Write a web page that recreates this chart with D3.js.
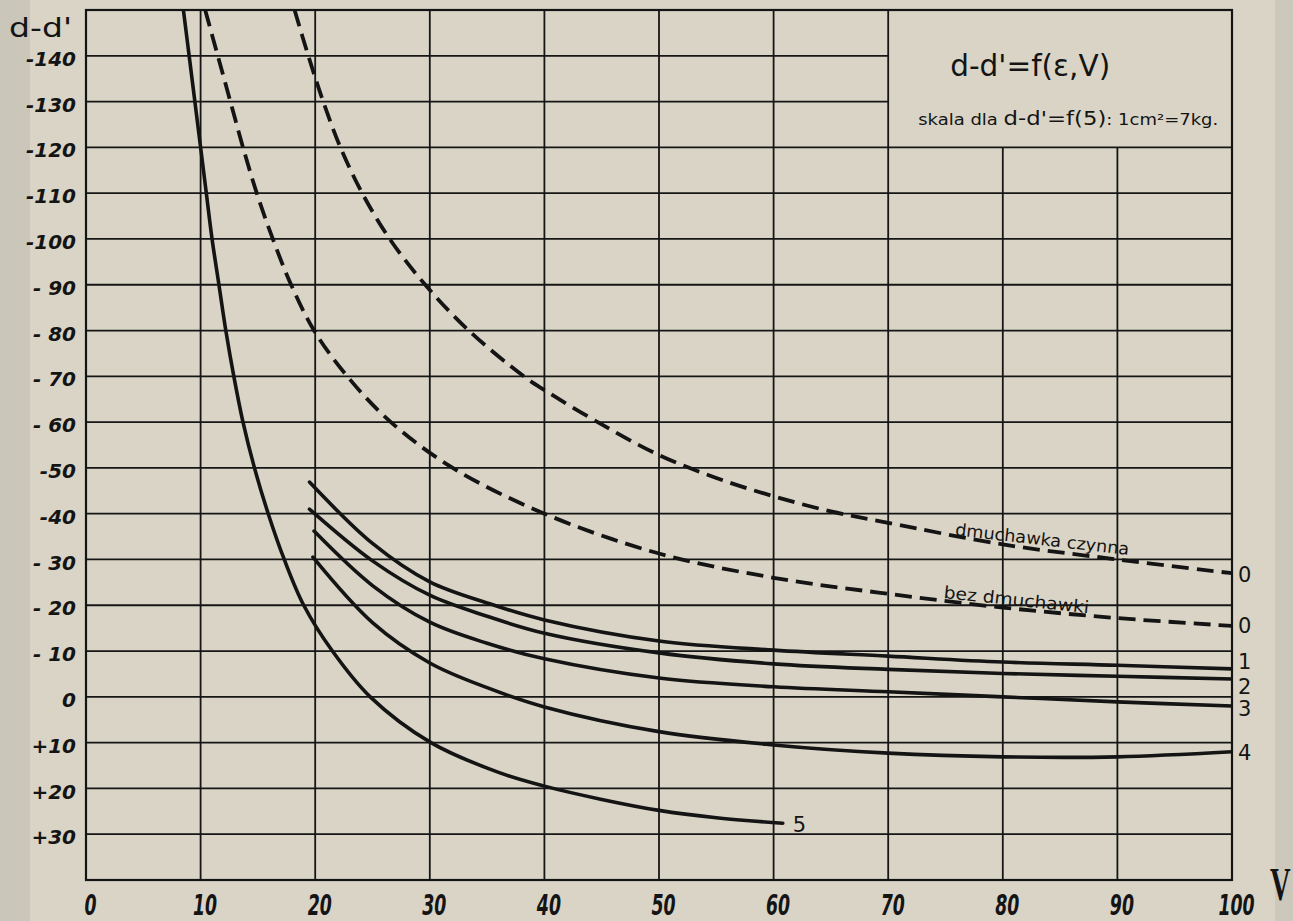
<!DOCTYPE html>
<meta charset="utf-8">
<style>
body { margin: 0; background: #d9d4c6; }
svg { display: block; }
.grid line { stroke: #161616; stroke-width: 1.8; }
.curve { fill: none; stroke: #141414; stroke-width: 3.6; stroke-linecap: round; }
.dashed { stroke-dasharray: 17 8; stroke-linecap: butt; stroke-width: 3.8; }
.lbl { font-family: "DejaVu Sans"; fill: #141414; }
</style>
<body>
<div id="chart"></div>
<script src="https://d3js.org/d3.v7.min.js"></script>
<script>

// ticks
var yTicks = [-140, -130, -120, -110, -100, -90, -80, -70, -60, -50, -40, -30, -20, -10, 0, 10, 20, 30];
var yTickLabels = ["-140", "-130", "-120", "-110", "-100", "- 90", "- 80", "- 70", "- 60", "-50", "-40", "- 30", "- 20", "- 10", "0", "+10", "+20", "+30"];
var xTicks = [0, 10, 20, 30, 40, 50, 60, 70, 80, 90, 100];

// dmuchawka czynna (dashed, upper)
var vCzynna = [18.2, 19.4, 20.7, 22.2, 24.1, 26.5, 29.6, 33.4, 38.2, 40, 45, 50, 55, 60, 65, 70, 80, 90, 100];
var dCzynna = [-150, -140, -130, -120, -110, -100, -90, -80, -70, -67, -59.5, -52.8, -47.8, -43.8, -40.5, -38, -33.3, -30, -27];

// bez dmuchawki (dashed, lower)
var vBez = [10.4, 11.5, 12.6, 13.7, 14.9, 16.3, 17.9, 19.9, 22.8, 26.6, 32.0, 40, 50, 60, 70, 80, 90, 100];
var dBez = [-150, -140, -130, -120, -110, -100, -90, -80, -70, -60, -50, -40, -31.3, -26, -22.5, -19.5, -17.2, -15.5];

// solid curves 1..4
var v1 = [19.5, 25, 30, 35, 40, 50, 60, 70, 80, 90, 100];
var d1 = [-46.9, -33.5, -25.1, -20.5, -16.8, -12.2, -10.2, -8.9, -7.6, -6.9, -6.1];
var v2 = [19.5, 25, 30, 35, 40, 50, 60, 70, 80, 90, 100];
var d2 = [-41.0, -29.7, -22.2, -17.6, -13.9, -9.6, -7.2, -6.0, -5.1, -4.5, -3.9];
var v3 = [19.9, 25, 30, 35, 40, 50, 60, 70, 80, 90, 100];
var d3v = [-36.2, -24.3, -16.3, -11.7, -8.3, -4.1, -2.2, -1.1, 0, 1.1, 2.0];
var v4 = [19.8, 25, 30, 35, 40, 50, 60, 70, 80, 90, 100];
var d4 = [-30.5, -16.2, -7.4, -2.0, 2.2, 7.6, 10.5, 12.3, 13.1, 13.1, 12.0];

// curve 5 (steep solid)
var v5 = [8.5, 9.0, 9.5, 10.0, 10.5, 11.0, 11.6, 12.2, 12.9, 13.7, 14.7, 15.9, 17.3, 19.0, 21.5, 24.8, 30.1, 36, 40, 45, 50, 55, 60.8];
var d5 = [-150, -140, -130, -120, -110, -100, -90, -80, -70, -60, -50, -40, -30, -20, -10, 0, 10, 16.5, 19.5, 22.4, 24.8, 26.4, 27.6];

var curveNames = ["0", "0", "1", "2", "3", "4", "5"];

// texts
var title = "d-d'=f(ε,V)";
var subtitle = ["skala dla ", "d-d'=f(5)", ": 1cm²=7kg."];
var labelCzynna = "dmuchawka czynna";
var labelBez = "bez dmuchawki";

// sizes
var largeur = 1293;
var hauteur = 921;
var margin = {top: 10, right: 61, bottom: 41, left: 86};

var svg = d3.select("#chart")
    .append("svg")
        .attr("width", largeur)
        .attr("height", hauteur);

// paper + scan border strips
svg.append("rect").attr("width", largeur).attr("height", hauteur).attr("fill", "#d9d4c6");
svg.append("rect").attr("width", 30).attr("height", hauteur).attr("fill", "#cac6ba");
svg.append("rect").attr("x", 1275).attr("width", largeur - 1275).attr("height", hauteur).attr("fill", "#ccc8bc");

var x = d3.scaleLinear()
    .domain([0, 100])
    .range([margin.left, largeur - margin.right]);
var y = d3.scaleLinear()
    .domain([-150, 40])
    .range([margin.top, hauteur - margin.bottom]);

// grid, leaving the title box (V>70, d<-120) blank
var grid = svg.append("g").attr("class", "grid");
grid.selectAll(".h")
    .data(yTicks)
    .enter().append("line")
        .attr("x1", x(0))
        .attr("x2", d => d < -120 ? x(70) : x(100))
        .attr("y1", d => y(d))
        .attr("y2", d => y(d));
grid.selectAll(".v")
    .data(xTicks.filter(d => d > 0 && d < 100))
    .enter().append("line")
        .attr("x1", d => x(d))
        .attr("x2", d => x(d))
        .attr("y1", d => d > 70 ? y(-120) : y(-150))
        .attr("y2", y(40));

svg.append("rect")
    .attr("x", x(0))
    .attr("y", y(-150))
    .attr("width", x(100) - x(0))
    .attr("height", y(40) - y(-150))
    .attr("fill", "none")
    .attr("stroke", "#141414")
    .attr("stroke-width", 2.2);

// axes
var yAxis = d3.axisLeft(y)
    .tickValues(yTicks)
    .tickSize(0)
    .tickPadding(10)
    .tickFormat((d, i) => yTickLabels[i]);
svg.append("g")
    .attr("transform", "translate(" + x(0) + ",0)")
    .call(yAxis)
    .call(g => g.select(".domain").remove())
    .selectAll("text")
        .attr("dy", "0.48em")
        .attr("font-family", "DejaVu Sans")
        .attr("font-size", 20)
        .attr("font-style", "italic")
        .attr("font-weight", "bold")
        .attr("fill", "#141414");

var xAxis = d3.axisBottom(x)
    .tickValues(xTicks)
    .tickSize(0);
svg.append("g")
    .attr("transform", "translate(0," + y(40) + ")")
    .call(xAxis)
    .call(g => g.select(".domain").remove())
    .selectAll("text")
        .attr("y", 35)
        .attr("dy", 0)
        .attr("transform", "translate(4,0) scale(0.62,1)")
        .attr("font-family", "DejaVu Sans")
        .attr("font-size", 28)
        .attr("font-style", "italic")
        .attr("font-weight", "bold")
        .attr("fill", "#141414");

// axis titles
svg.append("text")
    .attr("class", "lbl")
    .attr("x", 9)
    .attr("y", 37)
    .attr("font-size", 26)
    .attr("textLength", 63)
    .attr("lengthAdjust", "spacingAndGlyphs")
    .text("d-d'");

svg.append("text")
    .attr("x", 0)
    .attr("y", 0)
    .attr("transform", "translate(" + (x(100) + 38) + "," + (y(40) + 20) + ") scale(0.62,1)")
    .attr("font-family", "Liberation Serif")
    .attr("font-weight", "bold")
    .attr("font-size", 46)
    .attr("fill", "#141414")
    .text("V");

// title box
svg.append("text")
    .attr("class", "lbl")
    .attr("x", x(70) + 62)
    .attr("y", y(-150) + 66)
    .attr("font-size", 30)
    .attr("textLength", 160)
    .attr("lengthAdjust", "spacingAndGlyphs")
    .text(title);

var sub = svg.append("text")
    .attr("class", "lbl")
    .attr("x", x(70) + 30)
    .attr("y", y(-150) + 115)
    .attr("textLength", 300)
    .attr("lengthAdjust", "spacingAndGlyphs");
sub.selectAll("tspan")
    .data(subtitle)
    .enter().append("tspan")
        .attr("font-size", (d, i) => i == 1 ? 19 : 15)
        .text(d => d);

// curves
var curves = [
    {v: vCzynna, d: dCzynna, dashed: true},
    {v: vBez, d: dBez, dashed: true},
    {v: v1, d: d1},
    {v: v2, d: d2},
    {v: v3, d: d3v},
    {v: v4, d: d4},
    {v: v5, d: d5}
].map((c, i) => ({
    name: curveNames[i],
    dashed: !!c.dashed,
    points: c.v.map((v, j) => ({v: v, d: c.d[j]}))
}));

svg.append("clipPath")
        .attr("id", "cliprange")
    .append("rect")
        .attr("x", x(0))
        .attr("y", y(-150))
        .attr("width", x(100) - x(0))
        .attr("height", y(40) - y(-150));

var line = d3.line()
    .x(p => x(p.v))
    .y(p => y(p.d))
    .curve(d3.curveCatmullRom.alpha(0.5));

svg.append("g")
    .attr("clip-path", "url(#cliprange)")
    .selectAll("path")
    .data(curves)
    .enter().append("path")
        .attr("class", c => c.dashed ? "curve dashed" : "curve")
        .attr("d", c => line(c.points));

// end labels of the curves
var labelDy = [9, 7, 0, 15, 10, 8, 9];
svg.selectAll(".endlbl")
    .data(curves)
    .enter().append("text")
        .attr("class", "lbl")
        .attr("font-size", 21)
        .attr("x", c => x(c.points[c.points.length - 1].v) + (c.name == "5" ? 10 : 6))
        .attr("y", (c, i) => y(c.points[c.points.length - 1].d) + labelDy[i])
        .text(c => c.name);

// labels along the dashed curves
svg.append("text")
    .attr("class", "lbl")
    .attr("font-size", 17)
    .attr("textLength", 175)
    .attr("lengthAdjust", "spacingAndGlyphs")
    .attr("transform", "translate(" + x(75.8) + "," + y(-35.3) + ") rotate(6.5)")
    .text(labelCzynna);

svg.append("text")
    .attr("class", "lbl")
    .attr("font-size", 17)
    .attr("textLength", 146)
    .attr("lengthAdjust", "spacingAndGlyphs")
    .attr("transform", "translate(" + x(74.8) + "," + y(-21.6) + ") rotate(6)")
    .text(labelBez);

</script>
</body>
